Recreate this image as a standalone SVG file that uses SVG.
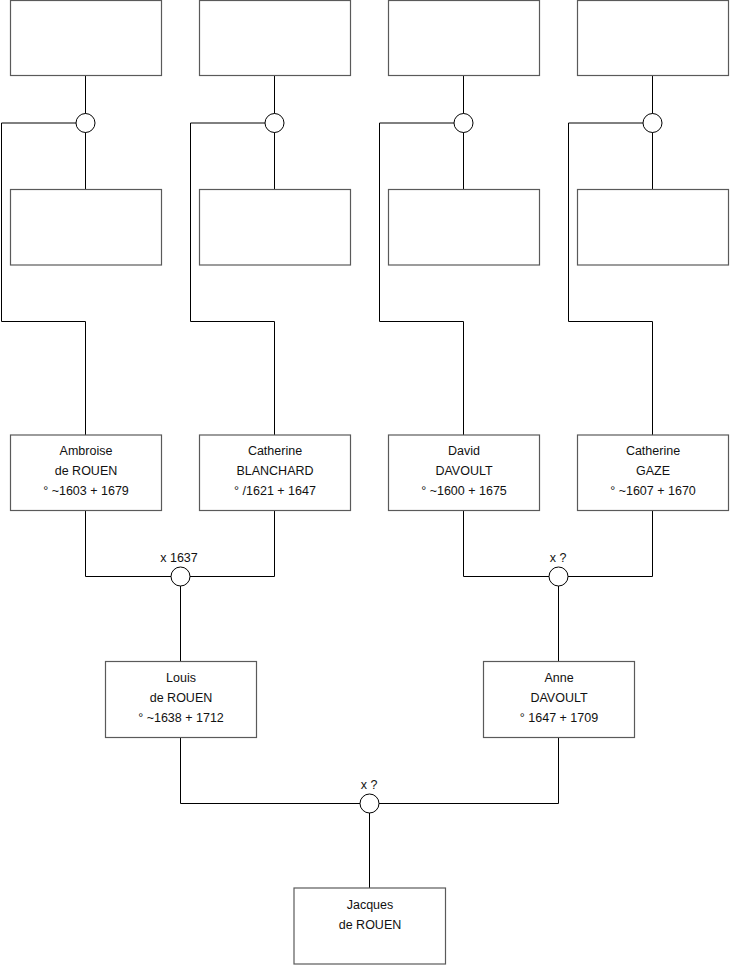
<svg xmlns="http://www.w3.org/2000/svg" width="740" height="975" viewBox="0 0 740 975">
<style>
.box{fill:#fff;stroke:#5a5a5a;stroke-width:1.2}
.ln{fill:none;stroke:#000;stroke-width:1}
.ring{fill:#fff;stroke:#000;stroke-width:1}
text{font-family:"Liberation Sans",Arial,sans-serif;font-size:12.5px;fill:#111;text-anchor:middle}
</style>
<rect width="740" height="975" fill="#fff"/>
<g id="connectors">
<path class="ln" d="M85.5 75.5V189.5M76 123H1.5V321.5H85.5V435"/>
<path class="ln" d="M274.5 75.5V189.5M265 123H190.5V321.5H274.5V435"/>
<path class="ln" d="M463.5 75.5V189.5M454 123H379.5V321.5H463.5V435"/>
<path class="ln" d="M652.5 75.5V189.5M643 123H568.5V321.5H652.5V435"/>
<path class="ln" d="M85.5 510.5V576.5H274.5V510.5M180.5 576.5V661.5"/>
<path class="ln" d="M463.5 510.5V576.5H652.5V510.5M558.5 576.5V661.5"/>
<path class="ln" d="M180.5 737.5V803.5H558.5V737.5M369.5 803.5V888"/>
</g>
<g id="m1"><circle class="ring" cx="85.5" cy="123" r="9.5"/></g>
<g id="m2"><circle class="ring" cx="274.5" cy="123" r="9.5"/></g>
<g id="m3"><circle class="ring" cx="463.5" cy="123" r="9.5"/></g>
<g id="m4"><circle class="ring" cx="652.5" cy="123" r="9.5"/></g>
<g id="m5"><circle class="ring" cx="180.5" cy="576.5" r="9.5"/><text x="179" y="562">x 1637</text></g>
<g id="m6"><circle class="ring" cx="558.5" cy="576.5" r="9.5"/><text x="558" y="562">x ?</text></g>
<g id="m7"><circle class="ring" cx="369.5" cy="803.5" r="9.5"/><text x="369" y="789">x ?</text></g>
<g id="p1"><rect class="box" x="10.5" y="0.5" width="151" height="75"/></g>
<g id="p2"><rect class="box" x="199.5" y="0.5" width="151" height="75"/></g>
<g id="p3"><rect class="box" x="388.5" y="0.5" width="151" height="75"/></g>
<g id="p4"><rect class="box" x="577.5" y="0.5" width="151" height="75"/></g>
<g id="p5"><rect class="box" x="10.5" y="189.5" width="151" height="75.5"/></g>
<g id="p6"><rect class="box" x="199.5" y="189.5" width="151" height="75.5"/></g>
<g id="p7"><rect class="box" x="388.5" y="189.5" width="151" height="75.5"/></g>
<g id="p8"><rect class="box" x="577.5" y="189.5" width="151" height="75.5"/></g>
<g id="ambroise"><rect class="box" x="10.5" y="435" width="151" height="75.5"/><text x="86" y="455">Ambroise</text><text x="86" y="474.5">de ROUEN</text><text x="86" y="494.5">° ~1603 + 1679</text></g>
<g id="catherineb"><rect class="box" x="199.5" y="435" width="151" height="75.5"/><text x="275" y="455">Catherine</text><text x="275" y="474.5">BLANCHARD</text><text x="275" y="494.5">° /1621 + 1647</text></g>
<g id="david"><rect class="box" x="388.5" y="435" width="151" height="75.5"/><text x="464" y="455">David</text><text x="464" y="474.5">DAVOULT</text><text x="464" y="494.5">° ~1600 + 1675</text></g>
<g id="catherineg"><rect class="box" x="577.5" y="435" width="151" height="75.5"/><text x="653" y="455">Catherine</text><text x="653" y="474.5">GAZE</text><text x="653" y="494.5">° ~1607 + 1670</text></g>
<g id="louis"><rect class="box" x="105.5" y="661.5" width="151" height="76"/><text x="181" y="682">Louis</text><text x="181" y="701.5">de ROUEN</text><text x="181" y="721.5">° ~1638 + 1712</text></g>
<g id="anne"><rect class="box" x="483.5" y="661.5" width="151" height="76"/><text x="559" y="682">Anne</text><text x="559" y="701.5">DAVOULT</text><text x="559" y="721.5">° 1647 + 1709</text></g>
<g id="jacques"><rect class="box" x="294" y="888" width="151.5" height="76"/><text x="370" y="909">Jacques</text><text x="370" y="928.5">de ROUEN</text></g>
</svg>
